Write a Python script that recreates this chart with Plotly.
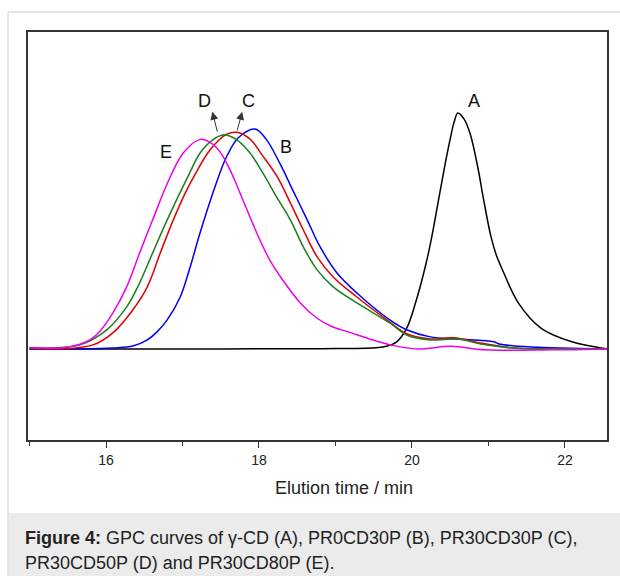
import plotly.graph_objects as go

# elution time (min) / normalised detector response
a_time = [15.0, 17.0, 19.0, 19.62, 19.80, 19.93, 20.05, 20.17, 20.25, 20.33, 20.42, 20.50,
          20.55, 20.60, 20.68, 20.76, 20.86, 20.94, 21.03, 21.10, 21.19, 21.39, 21.69, 22.09, 22.55]
a_resp = [0.0, 0.0, 0.002, 0.008, 0.030, 0.087, 0.199, 0.343, 0.46, 0.60, 0.76, 0.89,
          0.96, 1.0, 0.975, 0.913, 0.771, 0.627, 0.48, 0.40, 0.33, 0.195, 0.087, 0.030, 0.0]

b_time = [15.0, 15.66, 16.09, 16.35, 16.54, 16.66, 16.80, 16.97, 17.10, 17.23, 17.45, 17.57,
          17.73, 17.95, 18.10, 18.27, 18.44, 18.63, 18.80, 19.02, 19.28, 19.71, 19.93, 20.24,
          20.59, 21.07, 21.14, 21.56, 22.55]
b_resp = [0.0, 0.0, 0.004, 0.012, 0.038, 0.07, 0.123, 0.220, 0.347, 0.492, 0.71, 0.81,
          0.895, 0.932, 0.886, 0.788, 0.674, 0.547, 0.432, 0.322, 0.237, 0.123, 0.081, 0.051,
          0.042, 0.030, 0.021, 0.008, 0.0]

c_time = [15.0, 15.40, 15.83, 16.09, 16.35, 16.54, 16.71, 16.88, 17.05, 17.20, 17.33, 17.46,
          17.58, 17.71, 17.88, 18.05, 18.24, 18.41, 18.58, 18.76, 18.97, 19.28, 19.71, 19.93,
          20.24, 20.55, 20.90, 21.33, 22.55]
c_resp = [0.002, 0.0, 0.017, 0.068, 0.165, 0.263, 0.407, 0.547, 0.67, 0.76, 0.83, 0.88,
          0.91, 0.918, 0.890, 0.818, 0.729, 0.619, 0.504, 0.390, 0.305, 0.220, 0.114, 0.064,
          0.042, 0.047, 0.025, 0.004, 0.0]

d_time = [15.0, 15.40, 15.66, 16.01, 16.27, 16.44, 16.61, 16.80, 17.07, 17.23, 17.39, 17.53,
          17.71, 17.88, 18.05, 18.23, 18.41, 18.58, 18.76, 18.97, 19.28, 19.71, 19.93, 20.24,
          20.59, 20.90, 21.33, 22.55]
d_resp = [0.004, 0.006, 0.017, 0.081, 0.178, 0.280, 0.407, 0.547, 0.73, 0.83, 0.885, 0.907,
          0.886, 0.831, 0.746, 0.644, 0.547, 0.432, 0.335, 0.263, 0.195, 0.110, 0.059, 0.038,
          0.042, 0.021, 0.004, 0.002]

e_time = [15.0, 15.40, 15.66, 15.80, 15.92, 16.09, 16.27, 16.44, 16.61, 16.80, 17.01, 17.23,
          17.36, 17.49, 17.62, 17.79, 17.97, 18.14, 18.31, 18.54, 18.76, 18.95, 19.19, 19.49,
          19.75, 20.08, 20.51, 20.95, 21.84, 22.55]
e_resp = [0.006, 0.004, 0.02, 0.04, 0.075, 0.153, 0.263, 0.407, 0.547, 0.70, 0.83, 0.888,
          0.875, 0.835, 0.76, 0.631, 0.492, 0.377, 0.292, 0.195, 0.13, 0.095, 0.07, 0.038,
          0.015, 0.0, 0.011, -0.004, -0.004, 0.0]

series = [
    ("A", a_time, a_resp, "#000000"),
    ("B", b_time, b_resp, "#0000ee"),
    ("C", c_time, c_resp, "#e00000"),
    ("D", d_time, d_resp, "#1a7f1a"),
    ("E", e_time, e_resp, "#ee00ee"),
]

# curve labels: text, x, y
label_names = ["A", "B", "C", "D", "E"]
label_x = [20.81, 18.35, 17.86, 17.29, 16.79]
label_y = [1.05, 0.856, 1.05, 1.05, 0.835]

FONT = "Liberation Sans, Arial, sans-serif"

fig = go.Figure()
for name, t, r, color in series:
    fig.add_trace(go.Scatter(x=t, y=r, mode="lines", name=name,
                             line=dict(color=color, width=1.5, shape="spline", smoothing=1.0)))

for name, lx, ly in zip(label_names, label_x, label_y):
    fig.add_annotation(x=lx, y=ly, text=name, showarrow=False,
                       font=dict(family=FONT, size=18, color="#111"))

# small arrows pointing from curves D and C to their labels
for tip_x, tail_x, tail_y in [(17.39, 17.46, 0.915), (17.78, 17.71, 0.919)]:
    fig.add_annotation(x=tip_x, y=1.005, ax=tail_x, ay=tail_y, axref="x", ayref="y",
                       text="", showarrow=True, arrowhead=2, arrowsize=1.6,
                       arrowwidth=1, arrowcolor="#333")

# page furniture: light frame and grey caption box
fig.add_shape(type="rect", xref="paper", yref="paper", x0=-0.033, x1=1.05, y0=-0.35, y1=-0.179,
              fillcolor="#ebebeb", line=dict(width=0), layer="below")
fig.add_shape(type="line", xref="paper", yref="paper", x0=-0.0345, x1=-0.0345, y0=-0.35, y1=1.049,
              line=dict(color="#dddddd", width=1.5))
fig.add_shape(type="line", xref="paper", yref="paper", x0=-0.0345, x1=1.05, y0=1.049, y1=1.049,
              line=dict(color="#dddddd", width=1.5))

fig.add_annotation(xref="paper", yref="paper", x=0.546, y=-0.118, yanchor="middle",
                   text="Elution time / min",
                   showarrow=False, font=dict(family=FONT, size=18, color="#222"))
fig.add_annotation(xref="paper", yref="paper", x=-0.009, y=-0.240, xanchor="left", yanchor="middle",
                   text="<b>Figure 4:</b> GPC curves of γ-CD (A), PR0CD30P (B), PR30CD30P (C),",
                   showarrow=False, font=dict(family=FONT, size=18, color="#222"))
fig.add_annotation(xref="paper", yref="paper", x=-0.009, y=-0.301, xanchor="left", yanchor="middle",
                   text="PR30CD50P (D) and PR30CD80P (E).",
                   showarrow=False, font=dict(family=FONT, size=18, color="#222"))

fig.update_layout(
    width=620, height=576,
    margin=dict(l=28, r=13, t=32, b=136),
    paper_bgcolor="white", plot_bgcolor="white",
    showlegend=False,
    font=dict(family=FONT, color="#222"),
)
fig.update_xaxes(range=[14.98, 22.55], tickvals=[16, 18, 20, 22], ticks="outside", ticklen=6,
                 tickcolor="#333", tickfont=dict(size=14), showgrid=False, zeroline=False,
                 showline=True, mirror=True, linecolor="#333", linewidth=1.5,
                 minor=dict(tickvals=[15, 17, 19, 21], ticks="outside", ticklen=4, tickcolor="#333"))
fig.update_yaxes(range=[-0.386, 1.343], showticklabels=False, ticks="", showgrid=False,
                 zeroline=False, showline=True, mirror=True, linecolor="#333", linewidth=1.5)

# drop the default page margin so the 620x576 figure fills the window
fig.write_html("out.html", config={"displayModeBar": False},
               post_script="document.body.style.margin='0';")
